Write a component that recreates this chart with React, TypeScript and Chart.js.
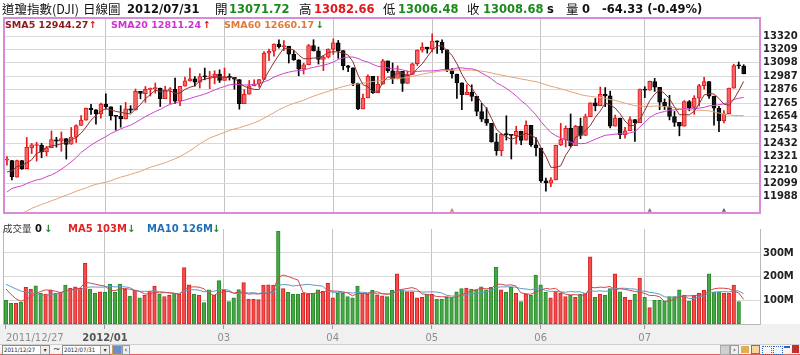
import React, { useEffect, useRef } from "react";
import { Chart, registerables } from "chart.js";

Chart.register(...registerables);

// ---------- DATA (DJI daily, 2011/12/27 - 2012/07/31) ----------
const opens = [
  12290.6, 12288, 12151, 12287, 12221, 12392, 12413, 12415, 12360, 12394,
  12460, 12449, 12470, 12423, 12482, 12580, 12623, 12720, 12708, 12675,
  12757, 12734, 12660, 12654, 12633, 12716, 12707, 12861, 12843, 12878,
  12884, 12889, 12802, 12874, 12878, 12781, 12904, 12949, 12965, 12938,
  12985, 12980, 12982, 13005, 12952, 12980, 12977, 12960, 12760, 12838,
  12907, 12923, 12960, 13178, 13194, 13253, 13232, 13236, 13169, 13124,
  13046, 13082, 13241, 13197, 13126, 13146, 13211, 13264, 13199, 13074,
  13057, 12929, 12716, 12807, 12986, 12850, 12922, 13114, 13031, 12965,
  13027, 12928, 13003, 13091, 13204, 13228, 13214, 13280, 13268, 13206,
  13036, 13006, 12932, 12835, 12855, 12820, 12694, 12632, 12597, 12443,
  12369, 12503, 12500, 12495, 12531, 12456, 12579, 12419, 12391, 12119,
  12101, 12127, 12418, 12460, 12555, 12412, 12573, 12496, 12651, 12766,
  12742, 12837, 12824, 12574, 12640, 12502, 12535, 12627, 12603, 12879,
  12871, 12942, 12895, 12771, 12736, 12653, 12604, 12573, 12777, 12728,
  12806, 12909, 12943, 12822, 12720, 12617, 12677, 12888, 13075, 13071.72,
];
const highs = [
  12320, 12290, 12292, 12290, 12479, 12430, 12440, 12430, 12405, 12533,
  12481, 12525, 12470, 12562, 12584, 12660, 12722, 12755, 12710, 12765,
  12841, 12734, 12660, 12743, 12770, 12743, 12881, 12861, 12902, 12890,
  12931, 12889, 12904, 12893, 12972, 12904, 12980, 13055, 12985, 13009,
  13055, 13027, 13032, 13040, 13055, 13007, 12977, 12960, 12877, 12952,
  12958, 12961, 13191, 13213, 13255, 13289, 13283, 13236, 13200, 13124,
  13095, 13251, 13290, 13229, 13158, 13214, 13297, 13284, 13199, 13078,
  13057, 12931, 12840, 12998, 12986, 12986, 13127, 13114, 13097, 13074,
  13027, 13031, 13096, 13206, 13264, 13228, 13338, 13280, 13290, 13206,
  13050, 13006, 12932, 12917, 12916, 12820, 12762, 12726, 12597, 12514,
  12513, 12659, 12500, 12573, 12531, 12618, 12579, 12479, 12391, 12143,
  12147, 12416, 12596, 12575, 12674, 12580, 12639, 12673, 12767, 12803,
  12898, 12893, 12863, 12665, 12640, 12564, 12650, 12627, 12880, 12901,
  12947, 12969, 12895, 12799, 12829, 12695, 12604, 12785, 12786, 12826,
  12920, 12978, 12943, 12822, 12737, 12703, 12889, 13087, 13105, 13082.66,
];
const lows = [
  12250, 12128, 12151, 12215, 12221, 12346, 12283, 12311, 12327, 12394,
  12399, 12365, 12300, 12423, 12438, 12580, 12623, 12670, 12590, 12639,
  12713, 12624, 12540, 12565, 12633, 12684, 12707, 12800, 12771, 12823,
  12847, 12736, 12802, 12760, 12760, 12743, 12904, 12947, 12905, 12889,
  12957, 12884, 12924, 12935, 12952, 12955, 12880, 12714, 12760, 12838,
  12907, 12896, 12960, 13116, 13153, 13220, 13200, 13097, 13118, 12991,
  13005, 13082, 13196, 13088, 13033, 13138, 13167, 13136, 13040, 13024,
  12908, 12710, 12716, 12807, 12845, 12850, 12922, 13018, 12926, 12965,
  12861, 12928, 13003, 13076, 13187, 13179, 13189, 13176, 13181, 13025,
  12972, 12804, 12710, 12835, 12782, 12660, 12611, 12579, 12441, 12332,
  12328, 12458, 12301, 12424, 12419, 12456, 12405, 12327, 12107, 12035,
  12072, 12127, 12412, 12400, 12400, 12412, 12470, 12496, 12651, 12700,
  12742, 12735, 12559, 12574, 12470, 12474, 12535, 12446, 12603, 12810,
  12871, 12861, 12710, 12711, 12625, 12571, 12493, 12573, 12700, 12671,
  12740, 12880, 12804, 12582, 12528, 12600, 12677, 12888, 13051, 13006.48,
];
const closes = [
  12291.35, 12151.41, 12287.04, 12217.56, 12397.38, 12418.42, 12415.70, 12359.92, 12392.69, 12462.47,
  12449.45, 12471.02, 12422.06, 12482.07, 12578.95, 12623.98, 12720.48, 12708.82, 12675.75, 12756.96,
  12734.63, 12660.46, 12653.72, 12632.91, 12716.46, 12705.41, 12862.23, 12845.13, 12878.20, 12883.95,
  12890.46, 12801.23, 12874.04, 12878.28, 12780.95, 12904.08, 12949.87, 12965.69, 12938.67, 12984.69,
  12982.95, 12981.20, 13005.12, 12952.07, 12980.30, 12977.57, 12962.81, 12759.15, 12837.33, 12907.94,
  12922.02, 12959.71, 13177.68, 13194.10, 13252.76, 13232.62, 13239.13, 13170.19, 13124.62, 13046.14,
  13080.73, 13241.63, 13197.73, 13126.21, 13145.82, 13212.04, 13264.49, 13199.55, 13074.75, 13060.14,
  12929.59, 12715.93, 12805.39, 12986.58, 12849.59, 12921.41, 13115.54, 13032.75, 12964.10, 13029.26,
  12927.17, 13001.56, 13090.72, 13204.62, 13228.31, 13213.63, 13279.32, 13268.57, 13206.59, 13038.27,
  13008.53, 12932.09, 12835.06, 12855.04, 12820.60, 12695.35, 12632.00, 12598.55, 12442.49, 12369.38,
  12504.48, 12502.81, 12496.15, 12529.75, 12454.83, 12580.69, 12419.86, 12393.45, 12118.57, 12101.46,
  12127.95, 12414.79, 12460.96, 12554.20, 12411.23, 12573.80, 12496.38, 12651.91, 12767.17, 12741.82,
  12837.33, 12824.39, 12573.57, 12640.78, 12502.66, 12534.67, 12627.01, 12602.26, 12880.09, 12871.39,
  12943.82, 12896.67, 12772.47, 12736.29, 12653.12, 12604.53, 12573.27, 12777.09, 12727.21, 12805.54,
  12908.70, 12943.36, 12822.57, 12721.46, 12617.32, 12676.05, 12887.93, 13075.66, 13073.01, 13008.68,
];
// volume in millions of shares
const volumes = [
  100, 87, 87, 92, 155, 147, 161, 131, 126, 144,
  129, 134, 164, 152, 157, 151, 256, 147, 129, 136,
  134, 168, 134, 168, 147, 118, 142, 110, 121, 139,
  160, 126, 116, 121, 129, 126, 238, 165, 126, 122,
  90, 144, 121, 183, 142, 95, 110, 145, 175, 105,
  105, 103, 164, 165, 164, 391, 149, 134, 126, 126,
  131, 126, 131, 144, 138, 173, 110, 129, 129, 116,
  110, 160, 129, 126, 142, 123, 119, 116, 142, 212,
  142, 136, 136, 110, 113, 126, 126, 105, 105, 113,
  110, 136, 149, 152, 147, 144, 157, 144, 155, 240,
  144, 134, 155, 129, 95, 126, 121, 206, 165, 134,
  110, 138, 131, 116, 121, 113, 126, 129, 284, 113,
  126, 121, 149, 212, 136, 113, 100, 126, 194, 113,
  69, 100, 100, 97, 116, 116, 144, 121, 97, 121,
  131, 142, 212, 136, 136, 129, 131, 164, 95, 0,
];
// closes / volumes before the first shown day (needed by the moving averages)
const priorCloses = [
  10655.30, 10808.71, 10939.95, 11123.33, 11103.12, 11433.18, 11416.30, 11518.85, 11478.13, 11644.49,
  11397.00, 11577.05, 11504.62, 11541.78, 11808.79, 11913.62, 11706.62, 11869.04, 12208.55, 12231.11,
  11955.01, 11657.96, 11836.04, 12044.47, 11983.24, 12068.39, 12170.18, 11780.94, 11893.86, 12153.68,
  12078.98, 12096.16, 11905.59, 11770.73, 11796.16, 11547.31, 11493.72, 11257.55, 11231.78, 11523.01,
  11555.63, 12045.68, 12020.03, 12019.42, 12097.83, 12150.13, 12196.37, 11997.70, 12184.26, 12021.39,
  11954.94, 11823.48, 11868.81, 11866.39, 11766.26, 12103.58, 12107.74, 12169.65, 12294.00,
];
const priorVolumes = [190, 180, 185, 190, 195, 200, 180, 146, 114];

const monthTickIdx = [0, 20, 44, 66, 86, 108, 129];
const monthTickLabels = ["2011/12/27", "2012/01", "03", "04", "05", "06", "07"];
const priceTicks = [11988, 12099, 12210, 12321, 12432, 12543, 12654, 12765, 12876, 12987, 13098, 13209, 13320];
const volumeTicks = [100, 200, 300];
const eventIdx = [90, 130, 145];
const eventColors = ["#d9824a", "#a45aa4", "#7a5a7a"];

// ---------- LAYOUT CONSTANTS ----------
const X_MIN = -0.6;
const X_MAX = 152.3;
const PRICE_MIN = 11853;
const PRICE_MAX = 13470;
const VOL_MAX = 401;

const NUM = "'DejaVu Sans', Verdana, sans-serif";
const CJK = "'Noto Sans CJK TC', 'Noto Sans CJK SC', sans-serif";

function movingAvg(values: number[], prior: number[], n: number): number[] {
  const all = [...prior, ...values];
  return values.map((_, i) => {
    const end = prior.length + i;
    let s = 0;
    for (let k = end - n + 1; k <= end; k++) s += all[k];
    return s / n;
  });
}

const idx = closes.map((_, i) => i);
const candleUp = closes.map((c, i) => c >= opens[i]);
const prevClose = closes.map((_, i) => (i === 0 ? priorCloses[priorCloses.length - 1] : closes[i - 1]));
const volUp = closes.map((c, i) => c >= prevClose[i]);

const sma5 = movingAvg(closes, priorCloses, 5);
const sma20 = movingAvg(closes, priorCloses, 20);
const sma60 = movingAvg(closes, priorCloses, 60);
const vma5 = movingAvg(volumes, priorVolumes, 5);
const vma10 = movingAvg(volumes, priorVolumes, 10);

const pts = (arr: number[]) => idx.map((i) => ({ x: i, y: arr[i] }));

const pricePanelBorder = {
  id: "pricePanelBorder",
  afterDraw(chart: any) {
    const { ctx, chartArea } = chart;
    ctx.save();
    ctx.strokeStyle = "#d88cd8";
    ctx.lineWidth = 2;
    ctx.strokeRect(chartArea.left, chartArea.top, chartArea.right - chartArea.left, chartArea.bottom - chartArea.top);
    ctx.restore();
  },
};

const volumePanelFrame = {
  id: "volumePanelFrame",
  beforeDraw(chart: any) {
    const { ctx, chartArea, width, height } = chart;
    ctx.save();
    ctx.fillStyle = "#f0f0f0";
    ctx.fillRect(0, chartArea.bottom, width, height - chartArea.bottom);
    ctx.restore();
  },
  afterDraw(chart: any) {
    const { ctx, chartArea } = chart;
    ctx.save();
    ctx.strokeStyle = "#b8b8b8";
    ctx.lineWidth = 1;
    ctx.beginPath();
    ctx.moveTo(chartArea.left + 0.5, chartArea.top);
    ctx.lineTo(chartArea.left + 0.5, chartArea.bottom + 0.5);
    ctx.lineTo(chartArea.right + 0.5, chartArea.bottom + 0.5);
    ctx.lineTo(chartArea.right + 0.5, chartArea.top);
    ctx.stroke();
    ctx.restore();
  },
};

function PriceAndVolume() {
  const priceRef = useRef<HTMLCanvasElement | null>(null);
  const volRef = useRef<HTMLCanvasElement | null>(null);

  useEffect(() => {
    if (!priceRef.current || !volRef.current) return;
    const priceChart = new Chart(priceRef.current, {
      type: "bar",
      data: {
        datasets: [
          { type: "line", data: pts(sma5), borderColor: "#8c2f2f", borderWidth: 1, pointRadius: 0, order: 0 } as any,
          { type: "line", data: pts(sma20), borderColor: "#cc44cc", borderWidth: 1, pointRadius: 0, order: 0 } as any,
          { type: "line", data: pts(sma60), borderColor: "#e3a478", borderWidth: 1, pointRadius: 0, order: 0 } as any,
          {
            type: "scatter",
            data: eventIdx.map((i) => ({ x: i, y: PRICE_MIN + 20 })),
            pointStyle: "triangle",
            pointRadius: 2.5,
            backgroundColor: eventColors,
            borderWidth: 0,
            order: 0,
          } as any,
          {
            type: "bar",
            data: idx.map((i) => ({ x: i, y: [lows[i], highs[i]] })),
            backgroundColor: idx.map((i) => (candleUp[i] ? "#e3191c" : "#000000")),
            barThickness: 1,
            grouped: false,
            order: 2,
          } as any,
          {
            type: "bar",
            data: idx.map((i) => ({ x: i, y: [opens[i], closes[i]] })),
            backgroundColor: idx.map((i) => (candleUp[i] ? "#f46666" : "#111111")),
            borderColor: idx.map((i) => (candleUp[i] ? "#e3191c" : "#000000")),
            borderWidth: 1,
            borderSkipped: false,
            barThickness: 4,
            minBarLength: 1,
            grouped: false,
            order: 1,
          } as any,
        ],
      },
      options: {
        responsive: false,
        animation: false,
        devicePixelRatio: 1,
        layout: { padding: { left: 3, top: 18, right: 0, bottom: 2 } },
        plugins: { legend: { display: false }, tooltip: { enabled: false } },
        scales: {
          x: {
            type: "linear",
            min: X_MIN,
            max: X_MAX,
            offset: false,
            afterBuildTicks: (s: any) => {
              s.ticks = monthTickIdx.slice(1).map((v) => ({ value: v }));
            },
            afterFit: (s: any) => {
              s.height = 0;
            },
            ticks: { display: false },
            grid: { color: "#c4c4c4", drawTicks: false, offset: false },
            border: { display: false },
          },
          y: {
            type: "linear",
            position: "right",
            min: PRICE_MIN,
            max: PRICE_MAX,
            afterBuildTicks: (s: any) => {
              s.ticks = priceTicks.map((v) => ({ value: v }));
            },
            afterFit: (s: any) => {
              s.width = 40;
            },
            ticks: {
              padding: 3,
              color: "#222",
              font: { family: NUM, size: 10, weight: "bold" },
              callback: (v: any) => String(v),
            },
            grid: { color: "#d8d8d8", drawTicks: false },
            border: { display: false },
          },
        },
      } as any,
      plugins: [pricePanelBorder],
    });

    const volChart = new Chart(volRef.current, {
      type: "bar",
      data: {
        datasets: [
          { type: "line", data: pts(vma5), borderColor: "#d24848", borderWidth: 1, pointRadius: 0, order: 0 } as any,
          { type: "line", data: pts(vma10), borderColor: "#5b9cc6", borderWidth: 1, pointRadius: 0, order: 0 } as any,
          {
            type: "bar",
            data: idx.map((i) => ({ x: i, y: volumes[i] })),
            backgroundColor: idx.map((i) => (volUp[i] ? "#f24c4c" : "#45a845")),
            borderColor: idx.map((i) => (volUp[i] ? "#d82020" : "#2a8a2a")),
            borderWidth: 1,
            borderSkipped: false,
            barThickness: 3.6,
            grouped: false,
            order: 1,
          } as any,
        ],
      },
      options: {
        responsive: false,
        animation: false,
        devicePixelRatio: 1,
        layout: { padding: { left: 3, top: 1, right: 0, bottom: 0 } },
        plugins: { legend: { display: false }, tooltip: { enabled: false } },
        scales: {
          x: {
            type: "linear",
            min: X_MIN,
            max: X_MAX,
            offset: false,
            afterBuildTicks: (s: any) => {
              s.ticks = [...monthTickIdx, X_MAX].map((v) => ({ value: v }));
            },
            afterFit: (s: any) => {
              s.height = 21;
            },
            ticks: {
              autoSkip: false,
              maxRotation: 0,
              minRotation: 0,
              align: "inner",
              padding: 3,
              callback: (_v: any, i: number) => (i < monthTickLabels.length ? monthTickLabels[i] : ""),
              font: (ctx: any) => ({ family: NUM, size: 10, weight: ctx.index === 1 ? "bold" : "normal" }),
              color: (ctx: any) => (ctx.index === 1 ? "#555555" : "#8c8c8c"),
            },
            grid: {
              offset: false,
              color: (ctx: any) => (ctx.index > 0 && ctx.index < monthTickIdx.length ? "#c4c4c4" : "rgba(0,0,0,0)"),
              tickColor: (ctx: any) => (ctx.index < monthTickIdx.length ? "#9a9a9a" : "rgba(0,0,0,0)"),
              tickLength: 5,
              drawTicks: true,
            },
            border: { display: false },
          },
          y: {
            type: "linear",
            position: "right",
            min: 0,
            max: VOL_MAX,
            afterBuildTicks: (s: any) => {
              s.ticks = volumeTicks.map((v) => ({ value: v }));
            },
            afterFit: (s: any) => {
              s.width = 40;
            },
            ticks: {
              padding: 3,
              color: "#222",
              font: { family: NUM, size: 10, weight: "bold" },
              callback: (v: any) => `${v}M`,
            },
            grid: { color: "#d8d8d8", drawTicks: false },
            border: { display: false },
          },
        },
      } as any,
      plugins: [volumePanelFrame],
    });

    return () => {
      priceChart.destroy();
      volChart.destroy();
    };
  }, []);

  return (
    <>
      <canvas
        ref={priceRef}
        width={800}
        height={222}
        style={{ position: "absolute", left: 0, top: 0, width: 800, height: 222, display: "block" }}
      />
      <canvas
        ref={volRef}
        width={800}
        height={125}
        style={{ position: "absolute", left: 0, top: 220, width: 800, height: 125, display: "block" }}
      />
    </>
  );
}

type Piece = { t: string; x: number; c?: string; cjk?: boolean; bold?: boolean; size?: number };

const headerPieces: Piece[] = [
  { t: "道瓊指數(DJI)", x: 2, cjk: true },
  { t: "日線圖", x: 83, cjk: true },
  { t: "2012/07/31", x: 127, bold: true, c: "#111" },
  { t: "開", x: 215, cjk: true },
  { t: "13071.72", x: 229, bold: true, c: "#1b8a1b" },
  { t: "高", x: 299, cjk: true },
  { t: "13082.66", x: 314, bold: true, c: "#e3161b" },
  { t: "低", x: 383, cjk: true },
  { t: "13006.48", x: 398, bold: true, c: "#1b8a1b" },
  { t: "收", x: 467, cjk: true },
  { t: "13008.68", x: 483, bold: true, c: "#1b8a1b" },
  { t: "s", x: 547, bold: true, c: "#111" },
  { t: "量", x: 566, cjk: true },
  { t: "0", x: 582, bold: true, c: "#111" },
  { t: "-64.33 (-0.49%)", x: 602, bold: true, c: "#111" },
];

const legendPieces: Piece[] = [
  { t: "SMA5 12944.27", x: 5, c: "#8b1c1c" },
  { t: "↑", x: 89, c: "#e3161b" },
  { t: "SMA20 12811.24", x: 111, c: "#cf32cf" },
  { t: "↑", x: 203, c: "#e3161b" },
  { t: "SMA60 12660.17", x: 224, c: "#e27a36" },
  { t: "↓", x: 316, c: "#1b8a1b" },
];

const volLegendPieces: Piece[] = [
  { t: "0", x: 35, c: "#111" },
  { t: "↓", x: 44, c: "#1b8a1b" },
  { t: "MA5 103M", x: 68, c: "#e52222" },
  { t: "↓", x: 127, c: "#1b8a1b" },
  { t: "MA10 126M", x: 147, c: "#1f6fb8" },
  { t: "↓", x: 212, c: "#1b8a1b" },
];

function Txt({ p, top, size, lh }: { p: Piece; top: number; size: number; lh: number }) {
  return (
    <span
      style={{
        position: "absolute",
        left: p.x,
        top,
        lineHeight: `${lh}px`,
        whiteSpace: "nowrap",
        fontFamily: p.cjk ? CJK : NUM,
        fontWeight: p.cjk ? "normal" : "bold",
        fontSize: p.cjk ? size + 1 : size,
        color: p.c || "#111",
      }}
    >
      {p.t}
    </span>
  );
}

function DateBox({ x, text }: { x: number; text: string }) {
  return (
    <div
      style={{
        position: "absolute",
        left: x,
        top: 345,
        width: 46,
        height: 8,
        border: "1px solid #8a8a8a",
        background: "#fff",
        fontFamily: "'DejaVu Sans Condensed', 'DejaVu Sans', sans-serif",
        fontSize: 6,
        lineHeight: "8px",
        color: "#222",
        overflow: "hidden",
      }}
    >
      <span style={{ position: "absolute", left: 1, top: 0 }}>{text}</span>
      <span
        style={{
          position: "absolute",
          right: 0,
          top: 0,
          width: 8,
          height: 8,
          borderLeft: "1px solid #aaa",
          background: "#eee",
          fontSize: 6,
          textAlign: "center",
        }}
      >
        ▾
      </span>
    </div>
  );
}

export default function App() {
  return (
    <div
      style={{
        position: "fixed",
        left: 0,
        top: 0,
        width: 800,
        height: 355,
        background: "#ffffff",
        overflow: "hidden",
      }}
    >
      <PriceAndVolume />
      {headerPieces.map((p, i) => (
        <Txt key={"h" + i} p={p} top={2} size={11.5} lh={14} />
      ))}
      {legendPieces.map((p, i) => (
        <Txt key={"l" + i} p={p} top={19} size={9.5} lh={12} />
      ))}
      <span
        style={{
          position: "absolute",
          left: 3,
          top: 222,
          lineHeight: "13px",
          fontFamily: CJK,
          fontSize: 9.5,
          color: "#333",
          whiteSpace: "nowrap",
        }}
      >
        成交量
      </span>
      {volLegendPieces.map((p, i) => (
        <Txt key={"v" + i} p={p} top={222} size={10} lh={13} />
      ))}
      {/* bottom control strip */}
      <div style={{ position: "absolute", left: 0, top: 344, width: 800, height: 1, background: "#cfcfcf" }} />
      <div style={{ position: "absolute", left: 0, top: 345, width: 800, height: 9, background: "#f6f6f6" }} />
      <div style={{ position: "absolute", left: 0, top: 354, width: 800, height: 1, background: "#e06060" }} />
      <DateBox x={2} text="2011/12/27" />
      <span style={{ position: "absolute", left: 53, top: 344, fontSize: 9, lineHeight: "10px", fontFamily: NUM, color: "#333" }}>~</span>
      <DateBox x={62} text="2012/07/31" />
      <div style={{ position: "absolute", left: 112, top: 345, width: 8, height: 8, background: "#6a8fd0", border: "1px solid #d0a050" }} />
      <div
        style={{
          position: "absolute",
          left: 122,
          top: 345,
          width: 6,
          height: 8,
          border: "1px solid #999",
          background: "#eee",
          fontSize: 7,
          lineHeight: "8px",
          textAlign: "center",
          fontFamily: NUM,
        }}
      >
        ‹
      </div>
      <div style={{ position: "absolute", left: 720, top: 345, width: 8, height: 8, background: "#cfcfcf", border: "1px solid #aaa" }} />
      <div
        style={{
          position: "absolute",
          left: 730,
          top: 345,
          width: 7,
          height: 8,
          border: "1px solid #999",
          background: "#eee",
          fontSize: 7,
          lineHeight: "8px",
          textAlign: "center",
          fontFamily: NUM,
        }}
      >
        ›
      </div>
      <div style={{ position: "absolute", left: 741, top: 346, width: 8, height: 7, background: "#e0b050" }} />
      <div style={{ position: "absolute", left: 751, top: 345, width: 7, height: 7, border: "1px solid #d05050", background: "#f4d8a0" }} />
      <div style={{ position: "absolute", left: 762, top: 346, width: 8, height: 7, border: "1px dotted #3060c0" }} />
      <div style={{ position: "absolute", left: 773, top: 346, width: 8, height: 7, border: "1px dotted #3060c0" }} />
      <div style={{ position: "absolute", left: 784, top: 346, width: 6, height: 7, borderTop: "2px solid #3060c0" }} />
      <div style={{ position: "absolute", left: 792, top: 345, width: 7, height: 8, background: "#c03030" }} />
    </div>
  );
}
